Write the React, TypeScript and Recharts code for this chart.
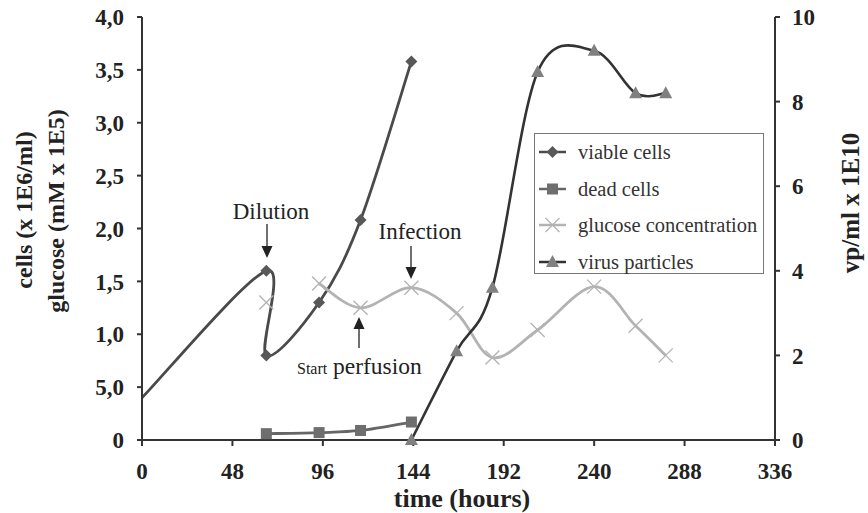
import React from "react";
import {
  LineChart,
  Line,
  XAxis,
  YAxis,
  Customized,
} from "recharts";

// time (hours) per series
const viableTimes = [0, 66, 66, 94, 116, 143];
const viableValues = [0.4, 1.6, 0.8, 1.3, 2.08, 3.58];

const deadTimes = [66, 94, 116, 143];
const deadValues = [0.06, 0.07, 0.09, 0.17];

// the first glucose point stands alone (gap after it)
const glucoseTimes = [66, 66, 94, 116, 143, 167, 186, 210, 240, 262, 278];
const glucoseValues = [1.3, null, 1.48, 1.25, 1.44, 1.2, 0.78, 1.04, 1.45, 1.08, 0.8];

const virusTimes = [143, 167, 186, 210, 240, 262, 278];
const virusValues = [0, 2.1, 3.6, 8.7, 9.2, 8.2, 8.2];

const xTicks = [0, 48, 96, 144, 192, 240, 288, 336];
const leftTicks = [0, 0.5, 1, 1.5, 2, 2.5, 3, 3.5, 4];
const leftTickLabels = ["0", "5,0", "1,0", "1,5", "2,0", "2,5", "3,0", "3,5", "4,0"];
const rightTicks = [0, 2, 4, 6, 8, 10];

const seriesNames = ["viable cells", "dead cells", "glucose concentration", "virus particles"];

const toRows = (times: number[], values: (number | null)[]) =>
  times.map((t, i) => ({ t, v: values[i] }));

const viableData = toRows(viableTimes, viableValues);
const deadData = toRows(deadTimes, deadValues);
const glucoseData = toRows(glucoseTimes, glucoseValues);
const virusData = toRows(virusTimes, virusValues);

const SERIF = "Liberation Serif, serif";

// excel-like smoothing (catmull-rom as bezier)
const smoothCurve = (context: any) => {
  let pts: number[][] = [];
  return {
    areaStart() {},
    areaEnd() {},
    lineStart() {
      pts = [];
    },
    point(x: number, y: number) {
      pts.push([+x, +y]);
    },
    lineEnd() {
      if (!pts.length) return;
      context.moveTo(pts[0][0], pts[0][1]);
      for (let i = 0; i < pts.length - 1; i++) {
        const p0 = pts[i - 1] || pts[i];
        const p1 = pts[i];
        const p2 = pts[i + 1];
        const p3 = pts[i + 2] || p2;
        context.bezierCurveTo(
          p1[0] + (p2[0] - p0[0]) / 6,
          p1[1] + (p2[1] - p0[1]) / 6,
          p2[0] - (p3[0] - p1[0]) / 6,
          p2[1] - (p3[1] - p1[1]) / 6,
          p2[0],
          p2[1]
        );
      }
    },
  };
};

const COLORS = {
  viable: "#4a4a4a",
  viableDot: "#585858",
  dead: "#666",
  deadDot: "#6e6e6e",
  glucose: "#b3b3b3",
  virus: "#333",
  virusDot: "#808080",
};

const Marker = ({ kind, cx, cy }: { kind: string; cx: number; cy: number }) => {
  if (kind === "diamond")
    return (
      <polygon
        points={`${cx},${cy - 6} ${cx + 6},${cy} ${cx},${cy + 6} ${cx - 6},${cy}`}
        fill={COLORS.viableDot}
      />
    );
  if (kind === "square")
    return <rect x={cx - 5.5} y={cy - 5.5} width={11} height={11} fill={COLORS.deadDot} />;
  if (kind === "cross")
    return (
      <g stroke={COLORS.glucose} strokeWidth={1.3}>
        <line x1={cx - 7} y1={cy - 7} x2={cx + 7} y2={cy + 7} />
        <line x1={cx - 7} y1={cy + 7} x2={cx + 7} y2={cy - 7} />
      </g>
    );
  return (
    <polygon
      points={`${cx},${cy - 7} ${cx + 6.5},${cy + 5} ${cx - 6.5},${cy + 5}`}
      fill={COLORS.virusDot}
    />
  );
};

const dotFor = (kind: string, skipFirst = false) => (props: any) => {
  const { cx, cy, index, value } = props;
  if ((skipFirst && index === 0) || value == null || cy == null || isNaN(cy))
    return <g key={`d${kind}${index}`} />;
  return (
    <g key={`d${kind}${index}`}>
      <Marker kind={kind} cx={cx} cy={cy} />
    </g>
  );
};

const legendItems = [
  { name: seriesNames[0], color: COLORS.viable, kind: "diamond" },
  { name: seriesNames[1], color: COLORS.dead, kind: "square" },
  { name: seriesNames[2], color: COLORS.glucose, kind: "cross" },
  { name: seriesNames[3], color: COLORS.virus, kind: "triangle" },
];

const LegendBox = () => (
  <div
    style={{
      position: "absolute",
      left: 534,
      top: 133,
      border: "1.5px solid #777",
      background: "#fff",
      width: 230,
      height: 141,
      boxSizing: "border-box",
      padding: "0 0 0 3px",
      fontFamily: SERIF,
      fontSize: 20.5,
      color: "#333",
      lineHeight: 1,
    }}
  >
    {legendItems.map((it) => (
      <div key={it.name} style={{ display: "flex", alignItems: "center", height: 36.5 }}>
        <svg width={30} height={20} style={{ flex: "none" }}>
          <line x1={1} y1={10} x2={28} y2={10} stroke={it.color} strokeWidth={2.5} />
          <Marker kind={it.kind} cx={14.5} cy={10} />
        </svg>
        <span style={{ marginLeft: 10, whiteSpace: "nowrap" }}>{it.name}</span>
      </div>
    ))}
  </div>
);

const Arrow = ({ x, y1, y2 }: { x: number; y1: number; y2: number }) => {
  const dir = y2 > y1 ? 1 : -1;
  return (
    <g>
      <line x1={x} y1={y1} x2={x} y2={y2 - dir * 10} stroke="#222" strokeWidth={1.3} />
      <polygon
        points={`${x - 5.5},${y2 - dir * 12} ${x + 5.5},${y2 - dir * 12} ${x},${y2}`}
        fill="#222"
      />
    </g>
  );
};

const Annotations = () => (
  <g fontFamily={SERIF} fill="#222">
    <text x={271} y={219} textAnchor="middle" fontSize={23}>
      Dilution
    </text>
    <Arrow x={267} y1={224} y2={258} />
    <text x={420} y={239} textAnchor="middle" fontSize={23}>
      Infection
    </text>
    <Arrow x={411} y1={246} y2={279} />
    <Arrow x={359} y1={348} y2={317} />
    <text x={297} y={374} fontSize={16}>
      Start
    </text>
    <text x={333} y={374} fontSize={23.5}>
      perfusion
    </text>
    <text
      transform="translate(32,210) rotate(-90)"
      textAnchor="middle"
      fontSize={24}
      fontWeight="bold"
    >
      cells (x 1E6/ml)
    </text>
    <text
      transform="translate(64,211) rotate(-90)"
      textAnchor="middle"
      fontSize={24}
      fontWeight="bold"
    >
      glucose (mM x 1E5)
    </text>
    <text
      transform="translate(859,203) rotate(-90)"
      textAnchor="middle"
      fontSize={25}
      fontWeight="bold"
    >
      vp/ml x 1E10
    </text>
    <text x={462} y={507} textAnchor="middle" fontSize={26} fontWeight="bold">
      time (hours)
    </text>
  </g>
);

const tickStyle = { fontFamily: SERIF, fontSize: 23, fontWeight: "bold", fill: "#222" };

export default function App() {
  return (
    <div style={{ position: "absolute", left: 0, top: 0, width: 868, height: 513, background: "#fff" }}>
      <LineChart
        width={868}
        height={513}
        margin={{ top: 17, right: 13, bottom: 23, left: 62 }}
      >
        <XAxis
          dataKey="t"
          type="number"
          domain={[0, 336]}
          ticks={xTicks}
          tick={tickStyle}
          tickSize={6}
          tickMargin={17}
          height={50}
          stroke="#333"
          strokeWidth={2}
          allowDuplicatedCategory={false}
        />
        <YAxis
          yAxisId="left"
          domain={[0, 4]}
          ticks={leftTicks}
          tickFormatter={(v: number) => leftTickLabels[leftTicks.indexOf(v)] ?? String(v)}
          tick={tickStyle}
          tickSize={5}
          tickMargin={13}
          width={80}
          stroke="#333"
          strokeWidth={2}
        />
        <YAxis
          yAxisId="right"
          orientation="right"
          domain={[0, 10]}
          ticks={rightTicks}
          tick={tickStyle}
          tickSize={5}
          tickMargin={12}
          width={80}
          stroke="#333"
          strokeWidth={2}
        />
        <Line
          yAxisId="left"
          data={viableData}
          dataKey="v"
          name={seriesNames[0]}
          type={smoothCurve as any}
          stroke={COLORS.viable}
          strokeWidth={2.8}
          dot={dotFor("diamond", true)}
          isAnimationActive={false}
        />
        <Line
          yAxisId="left"
          data={deadData}
          dataKey="v"
          name={seriesNames[1]}
          type={smoothCurve as any}
          stroke={COLORS.dead}
          strokeWidth={2.8}
          dot={dotFor("square")}
          isAnimationActive={false}
        />
        <Line
          yAxisId="left"
          data={glucoseData}
          dataKey="v"
          name={seriesNames[2]}
          type={smoothCurve as any}
          stroke={COLORS.glucose}
          strokeWidth={2.8}
          dot={dotFor("cross")}
          connectNulls={false}
          isAnimationActive={false}
        />
        <Line
          yAxisId="right"
          data={virusData}
          dataKey="v"
          name={seriesNames[3]}
          type={smoothCurve as any}
          stroke={COLORS.virus}
          strokeWidth={2.6}
          dot={dotFor("triangle")}
          isAnimationActive={false}
        />
        <Customized component={Annotations} />
      </LineChart>
      <LegendBox />
    </div>
  );
}
